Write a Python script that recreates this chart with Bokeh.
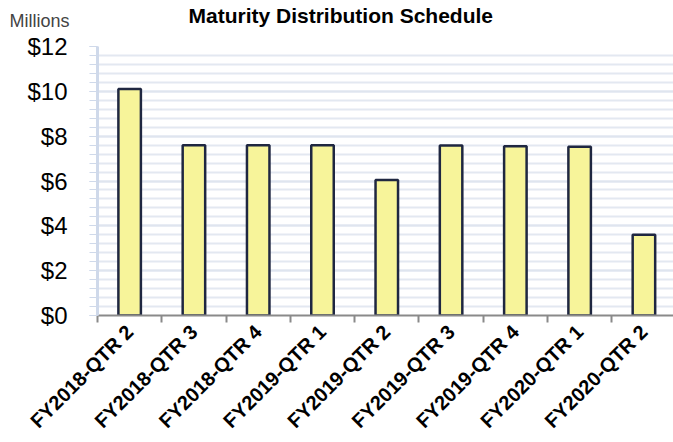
import math
from bokeh.plotting import figure
from bokeh.models import FixedTicker, SingleIntervalTicker, Label, Range1d, ColumnDataSource
from bokeh.embed import file_html
from bokeh.resources import INLINE

categories = ["FY2018-QTR 2", "FY2018-QTR 3", "FY2018-QTR 4", "FY2019-QTR 1", "FY2019-QTR 2",
              "FY2019-QTR 3", "FY2019-QTR 4", "FY2020-QTR 1", "FY2020-QTR 2"]
values = [10.1, 7.6, 7.6, 7.6, 6.05, 7.58, 7.55, 7.53, 3.6]
y_ticks = [0, 2, 4, 6, 8, 10, 12]
y_tick_labels = ["$0", "$2", "$4", "$6", "$8", "$10", "$12"]
title_text = "Maturity Distribution Schedule"
unit_text = "Millions"

centers = [i + 0.5 for i in range(len(categories))]
bounds = [float(i) for i in range(len(categories) + 1)]

W, H = 673, 442
LEFT, TOP, BOTTOM = 97, 46, 124
p = figure(width=W, height=H, output_backend="svg", toolbar_location=None,
           x_range=Range1d(0, 8.96), y_range=Range1d(0, 12),
           min_border_left=LEFT, min_border_right=0, min_border_top=TOP, min_border_bottom=BOTTOM)
p.outline_line_color = None
p.background_fill_color = "white"

p.title.text = title_text
p.title.align = "left"
p.title.offset = 188 - LEFT
p.title.text_font = "Liberation Sans"
p.title.text_font_style = "bold"
p.title.text_font_size = "21px"
p.title.text_color = "black"
p.title.standoff = 0

src = ColumnDataSource(dict(x=centers, top=values))
p.vbar(x="x", top="top", width=0.35, source=src, fill_color="#f7f49a",
       line_color="#1f2741", line_width=2.5)

# x axis
p.xaxis.ticker = FixedTicker(ticks=centers, minor_ticks=bounds)
p.xaxis.major_label_overrides = {c: lab for c, lab in zip(centers, categories)}
p.xaxis.major_label_orientation = math.pi / 4
p.xaxis.major_tick_line_color = None
p.xaxis.minor_tick_line_color = "#8a8a8a"
p.xaxis.minor_tick_out = 7
p.xaxis.minor_tick_in = 0
p.xaxis.minor_tick_line_width = 2
p.xaxis.axis_line_color = "#8a8a8a"
p.xaxis.axis_line_width = 2
p.xaxis.major_label_text_font = "Liberation Sans"
p.xaxis.major_label_text_font_style = "bold"
p.xaxis.major_label_text_font_size = "20px"
p.xaxis.major_label_text_color = "black"
p.xaxis.major_label_standoff = 6
p.xgrid.grid_line_color = None

# y axis
p.yaxis.ticker = SingleIntervalTicker(interval=2, num_minor_ticks=5)
p.yaxis.major_label_overrides = {t: lab for t, lab in zip(y_ticks, y_tick_labels)}
p.yaxis.axis_line_color = "#cfd9ea"
p.yaxis.axis_line_width = 3
p.yaxis.major_tick_line_color = "#cfd9ea"
p.yaxis.minor_tick_line_color = "#cfd9ea"
p.yaxis.major_tick_out = 8
p.yaxis.minor_tick_out = 8
p.yaxis.major_tick_in = 0
p.yaxis.minor_tick_in = 0
p.yaxis.major_label_standoff = 22
p.yaxis.major_label_text_font = "Liberation Sans"
p.yaxis.major_label_text_font_size = "24px"
p.yaxis.major_label_text_color = "black"
p.ygrid.grid_line_color = "#dfe5ef"
p.ygrid.grid_line_width = 2
p.ygrid.minor_grid_line_color = "#e3e8f1"
p.ygrid.minor_grid_line_width = 2

# unit caption placed in the top side panel (screen units relative to that panel)
p.add_layout(Label(x=9 - LEFT, y=TOP - 10, x_units="screen", y_units="screen",
                   text=unit_text, text_font="Liberation Sans", text_font_size="18px",
                   text_align="left", text_baseline="top"), "above")

open("out.html", "w").write(file_html(p, INLINE))
